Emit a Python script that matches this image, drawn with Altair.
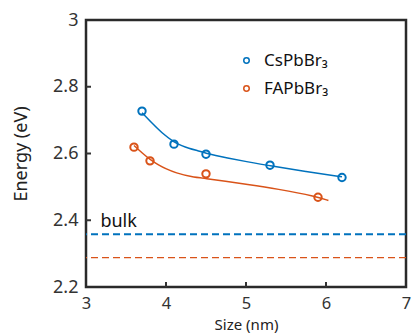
import altair as alt
import pandas as pd

FONT = "Noto Sans"
BLUE = "#0072BD"
ORANGE = "#D95319"

series_names = ["CsPbBr₃", "FAPbBr₃"]

cs_size = [3.7, 4.1, 4.5, 5.3, 6.2]
cs_energy = [2.727, 2.628, 2.598, 2.565, 2.528]
fa_size = [3.6, 3.8, 4.5, 5.9]
fa_energy = [2.619, 2.578, 2.539, 2.469]

cs_fit_x = [3.7, 3.83, 3.95, 4.1, 4.2, 4.28, 4.4, 4.5, 4.62, 4.75, 5.0, 5.3, 5.75, 6.2]
cs_fit_y = [2.722, 2.690, 2.661, 2.634, 2.623, 2.616, 2.608, 2.601, 2.594, 2.587, 2.576, 2.563, 2.546, 2.530]
fa_fit_x = [3.6, 3.7, 3.8, 3.91, 4.0, 4.12, 4.32, 4.5, 4.74, 5.0, 5.39, 5.89, 6.03]
fa_fit_y = [2.624, 2.602, 2.582, 2.565, 2.554, 2.542, 2.530, 2.525, 2.517, 2.508, 2.494, 2.471, 2.459]

bulk_energy = [2.358, 2.288]
bulk_label = ["bulk"]
bulk_label_pos = [3.18, 2.381]

x_ticks = [3, 4, 5, 6, 7]
y_ticks = [2.2, 2.4, 2.6, 2.8, 3.0]
inner_x_ticks = [4, 5, 6]
inner_y_ticks = [2.4, 2.6, 2.8]

pts = pd.DataFrame({
    "size": cs_size + fa_size,
    "energy": cs_energy + fa_energy,
    "series": [series_names[0]] * len(cs_size) + [series_names[1]] * len(fa_size),
})
cs_fit = pd.DataFrame({"size": cs_fit_x, "energy": cs_fit_y})
fa_fit = pd.DataFrame({"size": fa_fit_x, "energy": fa_fit_y})
bulk_cs = pd.DataFrame({"energy": [bulk_energy[0]]})
bulk_fa = pd.DataFrame({"energy": [bulk_energy[1]]})
lab = pd.DataFrame({"size": [bulk_label_pos[0]], "energy": [bulk_label_pos[1]], "t": bulk_label})
xt = pd.DataFrame({"size": inner_x_ticks})
yt = pd.DataFrame({"energy": inner_y_ticks})

xscale = alt.Scale(domain=[3, 7], nice=False, zero=False)
yscale = alt.Scale(domain=[2.2, 3.0], nice=False, zero=False)
cscale = alt.Scale(domain=series_names, range=[BLUE, ORANGE])

xaxis = alt.Axis(values=x_ticks, title="Size (nm)", format="~g", grid=False,
                 domain=False, ticks=False, labelFont=FONT, labelFontSize=16.5,
                 labelColor="#333333", labelBaseline="alphabetic", labelPadding=21,
                 titleFont=FONT, titleFontSize=15, titleFontWeight="normal",
                 titleColor="#222222", titleBaseline="alphabetic", titleY=42,
                 labelFlush=False)
yaxis = alt.Axis(values=y_ticks, title="Energy (eV)", format="~g", grid=False,
                 domain=False, ticks=False, labelFont=FONT, labelFontSize=18,
                 labelColor="#333333", labelPadding=8, titleFont=FONT,
                 titleFontSize=18, titleFontWeight="normal", titleColor="#222222",
                 titleX=-65, titleY=133.5, titleAlign="center", titleBaseline="middle",
                 labelFlush=False)

points = alt.Chart(pts).mark_point(shape="circle", filled=False, size=55, strokeWidth=2, opacity=1).encode(
    x=alt.X("size:Q", scale=xscale, axis=xaxis),
    y=alt.Y("energy:Q", scale=yscale, axis=yaxis),
    color=alt.Color("series:N", scale=cscale, legend=alt.Legend(
        title=None, orient="none", legendX=152, legendY=32,
        symbolType="circle", symbolSize=30, symbolStrokeWidth=1.5,
        labelFont=FONT, labelFontSize=17, labelColor="#111111",
        labelOffset=9, rowPadding=10, padding=0)),
)

def fit_line(df, color):
    return alt.Chart(df).mark_line(strokeWidth=1.5, interpolate="basis", color=color).encode(
        x=alt.X("size:Q", scale=xscale), y=alt.Y("energy:Q", scale=yscale))

def bulk_rule(df, color, w):
    return alt.Chart(df).mark_rule(strokeDash=[7, 4], strokeWidth=w, color=color).encode(
        y=alt.Y("energy:Q", scale=yscale))

text = alt.Chart(lab).mark_text(align="left", baseline="alphabetic", font=FONT,
                                fontSize=18, color="#111111").encode(
    x=alt.X("size:Q", scale=xscale), y=alt.Y("energy:Q", scale=yscale), text="t:N")

xticks = alt.Chart(xt).mark_rule(color="#333333", strokeWidth=2).encode(
    x=alt.X("size:Q", scale=xscale), y=alt.value(267), y2=alt.value(262))
yticks = alt.Chart(yt).mark_rule(color="#333333", strokeWidth=2).encode(
    y=alt.Y("energy:Q", scale=yscale), x=alt.value(0), x2=alt.value(5))

chart = alt.layer(
    bulk_rule(bulk_cs, BLUE, 2.0), bulk_rule(bulk_fa, ORANGE, 1.2),
    fit_line(cs_fit, BLUE), fit_line(fa_fit, ORANGE),
    points, text, xticks, yticks,
).properties(
    width=320, height=267,
    autosize=alt.AutoSizeParams(type="none"),
    padding={"left": 86, "top": 20, "right": 9, "bottom": 46},
    background="white",
).configure_view(stroke="#2a2a2a", strokeWidth=2.5)

chart.save("out.html", embed_options={"renderer": "svg", "actions": False})
